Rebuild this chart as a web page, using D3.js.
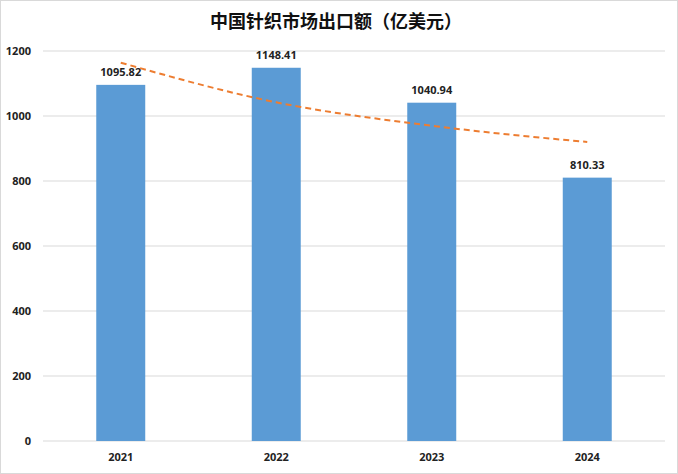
<!DOCTYPE html>
<html>
<head>
<meta charset="utf-8">
<script src="https://cdn.jsdelivr.net/npm/d3@7"></script>
<style>
  body { margin: 0; background: #fff; }
  text { font-family: "Open Sans", "Noto Sans", sans-serif; }
</style>
</head>
<body>
<div id="chart"></div>
<script>
const years = ["2021", "2022", "2023", "2024"];
const exportValues = [1095.82, 1148.41, 1040.94, 810.33];
// logarithmic trendline, one point per year
const trendValues = [1164, 1042, 970, 920];
const yTicks = [0, 200, 400, 600, 800, 1000, 1200];

const W = 678, H = 474;
const margin = { top: 51, right: 13, bottom: 33, left: 43 },
      width  = W - margin.left - margin.right,
      height = H - margin.top - margin.bottom;

const svg = d3.select("#chart")
  .append("svg")
    .attr("width", W)
    .attr("height", H);

// outer frame
svg.append("rect")
    .attr("x", 0.5).attr("y", 0.5)
    .attr("width", W - 1).attr("height", H - 1)
    .attr("fill", "#fff")
    .attr("stroke", "#d9d9d9");

svg.append("text")
    .attr("x", 336)
    .attr("y", 28)
    .attr("text-anchor", "middle")
    .style("font-family", "'Noto Sans CJK SC', sans-serif")
    .style("font-size", "18px")
    .style("font-weight", "bold")
    .attr("fill", "#111")
    .text("中国针织市场出口额（亿美元）");

const g = svg.append("g")
    .attr("transform", `translate(${margin.left},${margin.top})`);

const x = d3.scaleBand()
    .domain(years)
    .range([0, width])
    .paddingInner(0.685)
    .paddingOuter(0.3425);

const y = d3.scaleLinear()
    .domain([0, 1200])
    .range([height, 0]);

// gridlines
g.append("g")
  .selectAll("line")
  .data(yTicks)
  .join("line")
    .attr("x1", 0).attr("x2", width)
    .attr("y1", d => y(d)).attr("y2", d => y(d))
    .attr("stroke", "#d9d9d9")
    .attr("stroke-width", 1);

// y axis labels
g.append("g")
  .selectAll("text")
  .data(yTicks)
  .join("text")
    .attr("x", -12)
    .attr("y", d => y(d))
    .attr("dy", "0.35em")
    .attr("text-anchor", "end")
    .style("font-size", "11px")
    .style("font-weight", "bold")
    .attr("fill", "#222")
    .text(d => d);

const data = years.map((yr, i) => ({ year: yr, value: exportValues[i], trend: trendValues[i] }));

g.selectAll(".bar")
  .data(data)
  .join("rect")
    .attr("class", "bar")
    .attr("x", d => x(d.year))
    .attr("y", d => y(d.value))
    .attr("width", x.bandwidth())
    .attr("height", d => height - y(d.value))
    .attr("fill", "#5b9bd5");

g.selectAll(".val")
  .data(data)
  .join("text")
    .attr("class", "val")
    .attr("x", d => x(d.year) + x.bandwidth() / 2)
    .attr("y", d => y(d.value) - 9)
    .attr("text-anchor", "middle")
    .style("font-size", "11px")
    .style("font-weight", "bold")
    .attr("fill", "#222")
    .text(d => d.value.toFixed(2));

// x axis labels
g.selectAll(".xl")
  .data(years)
  .join("text")
    .attr("class", "xl")
    .attr("x", d => x(d) + x.bandwidth() / 2)
    .attr("y", height + 20)
    .attr("text-anchor", "middle")
    .style("font-size", "11px")
    .style("font-weight", "bold")
    .attr("fill", "#222")
    .text(d => d);

const line = d3.line()
    .x(d => x(d.year) + x.bandwidth() / 2)
    .y(d => y(d.trend))
    .curve(d3.curveMonotoneX);

g.append("path")
    .datum(data)
    .attr("d", line)
    .attr("fill", "none")
    .attr("stroke", "#ed7d31")
    .attr("stroke-width", 2)
    .attr("stroke-dasharray", "6,4");
</script>
</body>
</html>
